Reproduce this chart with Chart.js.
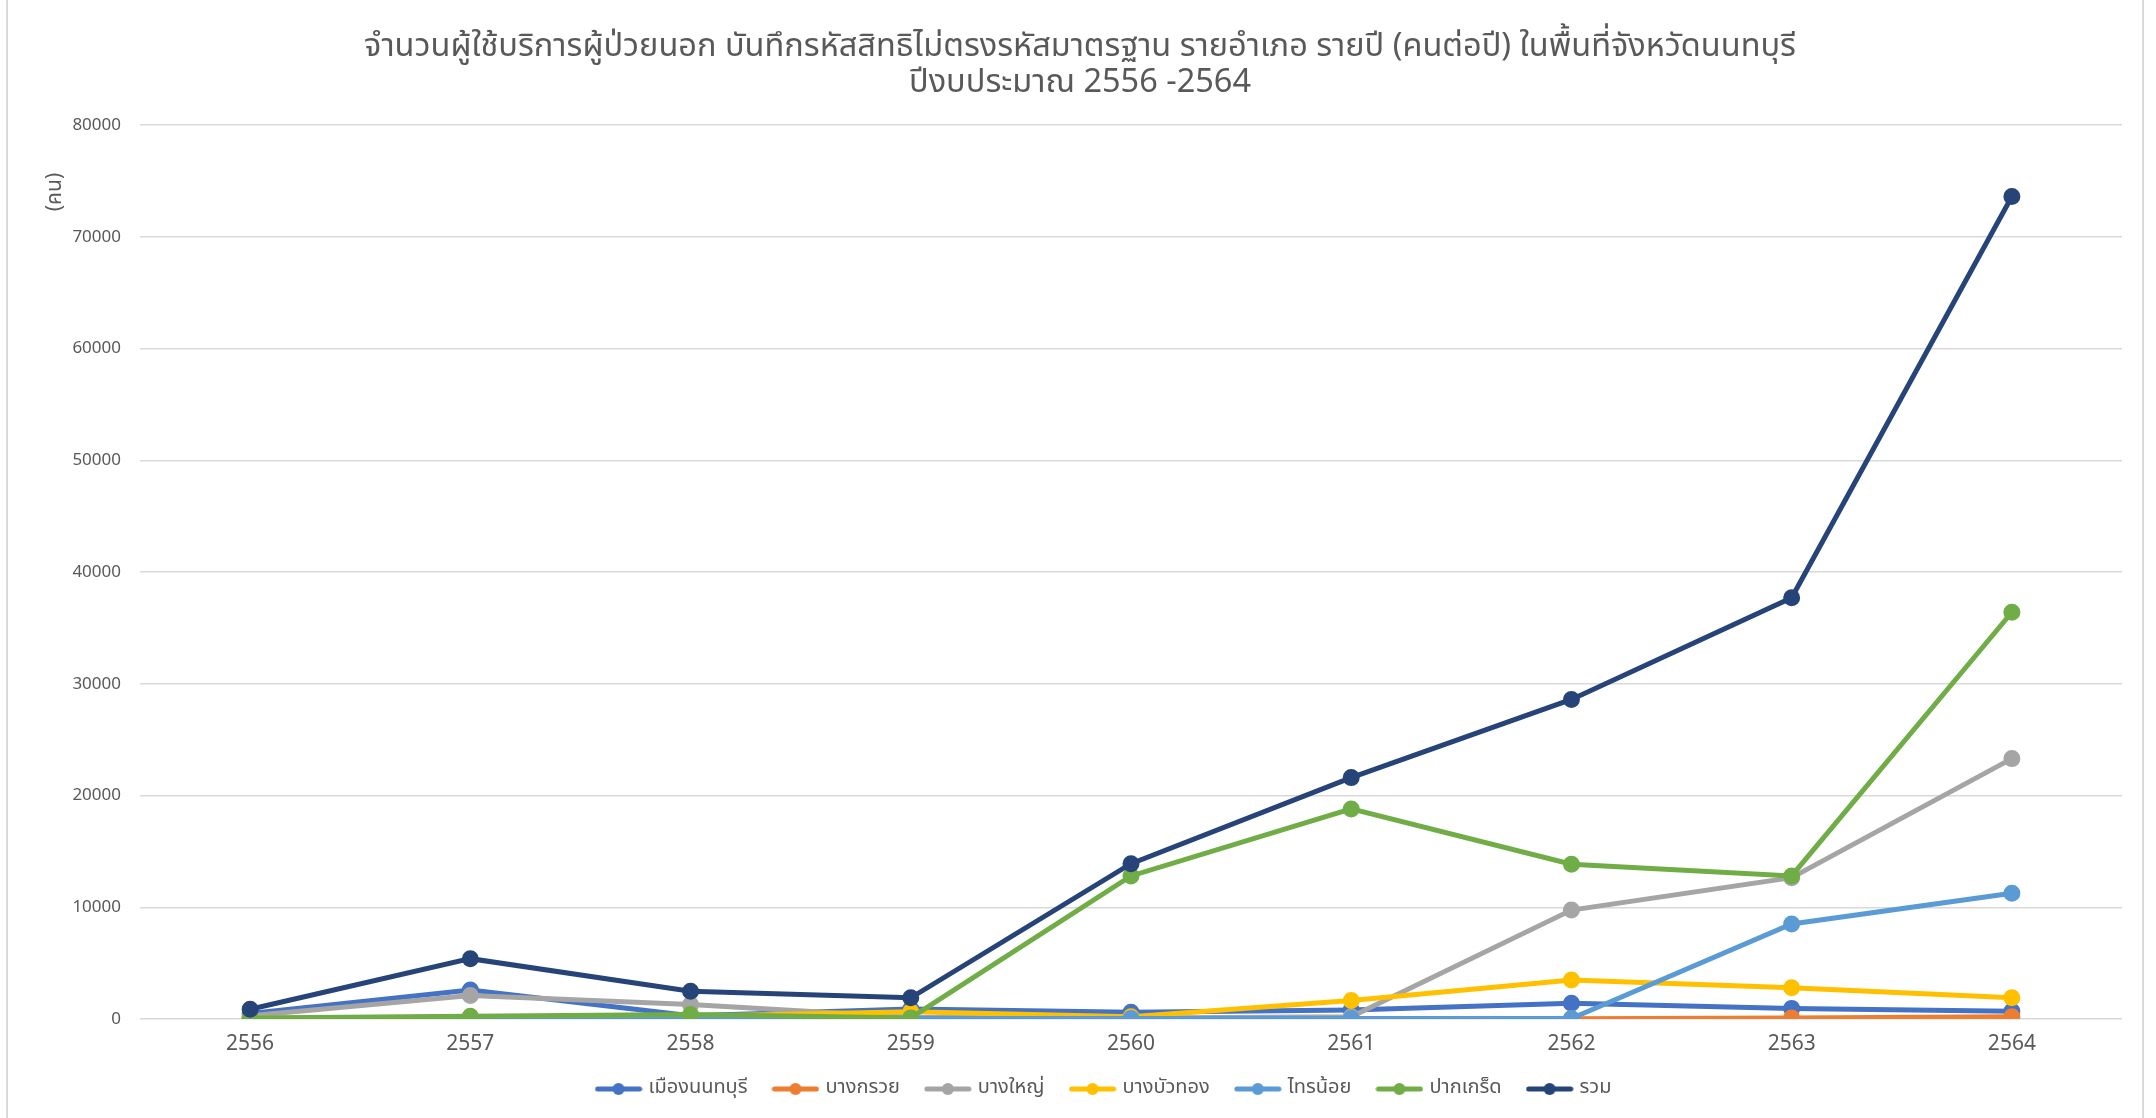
<!DOCTYPE html>
<html>
<head>
<meta charset="utf-8">
<script src="https://cdn.jsdelivr.net/npm/chart.js@4.4.0/dist/chart.umd.min.js"></script>
<style>
  html, body { margin: 0; padding: 0; background: #fff; overflow: hidden; }
  #wrap { position: relative; width: 2156px; height: 1118px; }
  #frame { position: absolute; left: 6px; top: -4px; width: 2134px; height: 1124px; border: 2px solid #d9d9d9; pointer-events: none; }
  canvas { display: block; }
</style>
</head>
<body>
<div id="wrap">
  <canvas id="districtChart" width="2156" height="1118"></canvas>
  <div id="frame"></div>
</div>
<script>
// FISCAL YEARS
const years = ['2556', '2557', '2558', '2559', '2560', '2561', '2562', '2563', '2564'];

// PATIENTS PER DISTRICT (people per year)
const muangNonthaburi = [500, 2600, 300, 900, 600, 800, 1400, 950, 700];
const bangKruai = [20, 20, 20, 20, 20, 20, 30, 100, 200];
const bangYai = [300, 2100, 1300, 150, 100, 200, 9750, 12650, 23300];
const bangBuaThong = [100, 150, 250, 650, 200, 1650, 3480, 2800, 1900];
const saiNoi = [50, 50, 50, 50, 50, 50, 50, 8500, 11250];
const pakKret = [100, 250, 400, 100, 12800, 18800, 13850, 12800, 36400];
const total = [870, 5400, 2480, 1900, 13900, 21600, 28600, 37700, 73600];

const seriesNames = ['เมืองนนทบุรี', 'บางกรวย', 'บางใหญ่', 'บางบัวทอง', 'ไทรน้อย', 'ปากเกร็ด', 'รวม'];
const seriesColors = ['#4472C4', '#ED7D31', '#A5A5A5', '#FFC000', '#5B9BD5', '#70AD47', '#264478'];
const seriesValues = [muangNonthaburi, bangKruai, bangYai, bangBuaThong, saiNoi, pakKret, total];

const yTicks = [0, 10000, 20000, 30000, 40000, 50000, 60000, 70000, 80000];

const THAI_FONT = '"Noto Sans Thai", "Leelawadee UI", Tahoma, "Noto Sans", sans-serif';
const TEXT_GRAY = '#595959';

// LEGEND MARKER: short line with a dot
function legendMarker(color) {
  const c = document.createElement('canvas');
  c.width = 48;
  c.height = 14;
  const ctx = c.getContext('2d');
  ctx.strokeStyle = color;
  ctx.lineWidth = 5;
  ctx.lineCap = 'round';
  ctx.beginPath();
  ctx.moveTo(3, 7);
  ctx.lineTo(45, 7);
  ctx.stroke();
  ctx.fillStyle = color;
  ctx.beginPath();
  ctx.arc(24, 7, 6, 0, Math.PI * 2);
  ctx.fill();
  return c;
}

// Y AXIS UNIT LABEL
const unitLabel = {
  id: 'unitLabel',
  afterDraw(chart) {
    const ctx = chart.ctx;
    ctx.save();
    ctx.translate(57, 192);
    ctx.rotate(-Math.PI / 2);
    ctx.font = '21px ' + THAI_FONT;
    ctx.fillStyle = TEXT_GRAY;
    ctx.textAlign = 'center';
    ctx.textBaseline = 'middle';
    ctx.fillText('(คน)', 0, 0);
    ctx.restore();
  }
};

// NUDGE LEGEND ROW A BIT RIGHT (like the excel original)
const legendShift = {
  id: 'legendShift',
  afterLayout(chart) {
    chart.legend.left += 25;
    chart.legend.right += 25;
  }
};

const datasets = seriesNames.map((name, i) => ({
  label: name,
  data: seriesValues[i],
  borderColor: seriesColors[i],
  backgroundColor: seriesColors[i],
  pointBackgroundColor: seriesColors[i],
  pointBorderColor: seriesColors[i],
  borderWidth: 5,
  pointRadius: 6,
  pointHoverRadius: 6,
  tension: 0,
  order: seriesNames.length - i
}));

new Chart(document.getElementById('districtChart'), {
  type: 'line',
  data: { labels: years, datasets: datasets },
  options: {
    responsive: false,
    animation: false,
    layout: { padding: { left: 38, right: 34, top: 0, bottom: 9 } },
    scales: {
      x: {
        offset: true,
        grid: { display: false, drawTicks: false },
        border: { display: false },
        ticks: { color: TEXT_GRAY, padding: 14, font: { size: 21, family: THAI_FONT } },
        afterFit: (scale) => { scale.height = 32; }
      },
      y: {
        min: 0,
        max: 80000,
        afterBuildTicks: (scale) => { scale.ticks = yTicks.map((v) => ({ value: v })); },
        grid: { color: '#d9d9d9', lineWidth: 1.5, drawTicks: false },
        border: { display: false },
        ticks: {
          color: TEXT_GRAY,
          padding: 19,
          font: { size: 17, family: '"Noto Sans", sans-serif' },
          callback: (value) => String(value)
        },
        afterFit: (scale) => { scale.width = 102; }
      }
    },
    plugins: {
      title: {
        display: true,
        text: ['จำนวนผู้ใช้บริการผู้ป่วยนอก บันทึกรหัสสิทธิไม่ตรงรหัสมาตรฐาน รายอำเภอ รายปี (คนต่อปี) ในพื้นที่จังหวัดนนทบุรี', 'ปีงบประมาณ 2556 -2564'],
        color: TEXT_GRAY,
        font: { size: 32.5, weight: 'normal', family: THAI_FONT, lineHeight: 36 / 32.5 },
        padding: { top: 31, bottom: 22 }
      },
      legend: {
        position: 'bottom',
        labels: {
          usePointStyle: true,
          pointStyleWidth: 40,
          padding: 28,
          color: TEXT_GRAY,
          font: { size: 20, family: THAI_FONT },
          generateLabels: (chart) => chart.data.datasets.map((ds, i) => ({
            text: ds.label,
            fillStyle: ds.borderColor,
            strokeStyle: ds.borderColor,
            fontColor: TEXT_GRAY,
            lineWidth: 0,
            pointStyle: legendMarker(ds.borderColor),
            hidden: !chart.isDatasetVisible(i),
            datasetIndex: i
          }))
        }
      },
      tooltip: { enabled: false }
    }
  },
  plugins: [unitLabel, legendShift]
});
</script>
</body>
</html>
